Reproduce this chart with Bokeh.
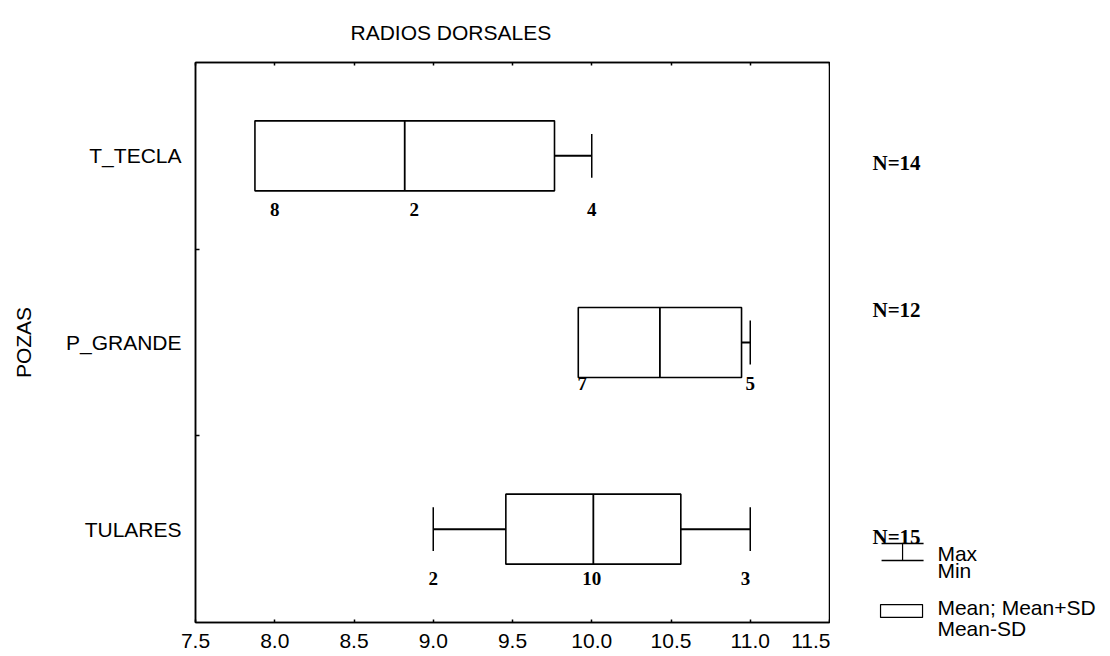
from bokeh.plotting import figure
from bokeh.layouts import row
from bokeh.models import Range1d, FixedTicker, LinearAxis
from bokeh.embed import file_html
from bokeh.resources import INLINE
from bokeh.core.properties import value

# ---------------- data ----------------
title_text = "RADIOS DORSALES"
y_title = "POZAS"
groups = ["T_TECLA", "P_GRANDE", "TULARES"]
means = [8.82, 10.43, 10.01]
sds = [0.945, 0.515, 0.552]
mins = [8.0, 10.0, 9.0]
maxs = [10.0, 11.0, 11.0]
n_obs = [14, 12, 15]
count_vals = [[8, 2, 4], [7, 5], [2, 10, 3]]
count_pos = [[8.0, 8.88, 10.0], [9.94, 11.0], [9.0, 10.0, 10.97]]
x_ticks = [7.5, 8.0, 8.5, 9.0, 9.5, 10.0, 10.5, 11.0, 11.5]
x_tick_labels = ["7.5", "8.0", "8.5", "9.0", "9.5", "10.0", "10.5", "11.0", "11.5"]
legend_whisker = ["Max", "Min"]
legend_box = ["Mean; Mean+SD", "Mean-SD"]

# ---------------- layout / style ----------------
SANS = "Liberation Sans"
SERIF = "Liberation Serif"
FRAME_W, FRAME_H = 634, 560
LEFT, TOP, BOTTOM, RIGHT = 195, 62, 34, 1
SIDE_W = 1110 - (LEFT + FRAME_W + RIGHT)
BOX_H = 0.375
CAP_H = 0.235
count_dy = [0.29, 0.22, 0.265]
n_dy = [-0.036, 0.172, -0.044]
ng = len(groups)
ycent = [ng - i - 0.5 for i in range(ng)]
x0, x1 = x_ticks[0], x_ticks[-1]
ppx = FRAME_W / (x1 - x0)
ppy = FRAME_H / ng

p = figure(frame_width=FRAME_W, frame_height=FRAME_H,
           x_range=Range1d(x0, x1), y_range=Range1d(0, ng),
           output_backend="svg", toolbar_location=None,
           min_border_left=LEFT, min_border_right=RIGHT, min_border_top=TOP,
           min_border_bottom=BOTTOM)
p.frame_align = False
p.background_fill_color = "white"
p.border_fill_color = "white"
p.grid.visible = False
p.outline_line_color = "black"
p.outline_line_width = 1.5

# title
p.title.text = title_text
p.title.align = "left"
p.title.offset = 155
p.title.standoff = 37
p.title.text_font = SANS
p.title.text_font_size = "21px"
p.title.text_font_style = "normal"
p.title.text_color = "black"

# bottom axis
p.xaxis.ticker = FixedTicker(ticks=x_ticks)
p.xaxis.major_label_overrides = {t: s for t, s in zip(x_ticks, x_tick_labels)}
p.xaxis.major_tick_in = 3
p.xaxis.major_tick_out = 0
p.xaxis.minor_tick_line_color = None
p.xaxis.major_label_standoff = 11
p.xaxis.major_label_text_font = SANS
p.xaxis.major_label_text_font_size = "21px"
p.xaxis.major_label_text_color = "black"
p.xaxis.axis_line_width = 1.5
p.xaxis.major_tick_line_width = 1.5

# top axis (ticks only)
top = LinearAxis(ticker=FixedTicker(ticks=x_ticks), major_tick_in=3, major_tick_out=0,
                 minor_tick_line_color=None, major_label_text_font_size="0px",
                 major_label_standoff=0, axis_line_width=1.5, major_tick_line_width=1.5)
p.add_layout(top, "above")

# left axis
p.yaxis.ticker = FixedTicker(ticks=ycent, minor_ticks=[float(k) for k in range(1, ng)])
p.yaxis.major_label_overrides = {y: g for y, g in zip(ycent, groups)}
p.yaxis.major_tick_line_color = None
p.yaxis.major_tick_in = 0
p.yaxis.major_tick_out = 0
p.yaxis.minor_tick_in = 4
p.yaxis.minor_tick_out = 0
p.yaxis.minor_tick_line_width = 1.5
p.yaxis.major_label_standoff = 14
p.yaxis.major_label_text_font = SANS
p.yaxis.major_label_text_font_size = "21px"
p.yaxis.major_label_text_color = "black"
p.yaxis.axis_line_width = 1.5
p.yaxis.axis_label = y_title
p.yaxis.axis_label_text_font = SANS
p.yaxis.axis_label_text_font_size = "21px"
p.yaxis.axis_label_text_font_style = "normal"
p.yaxis.axis_label_text_color = "black"
p.yaxis.axis_label_standoff = 28

# whiskers (drawn first, box covers interior parts)
lo = [m - s for m, s in zip(means, sds)]
hi = [m + s for m, s in zip(means, sds)]
p.segment(x0=lo, y0=ycent, x1=mins, y1=ycent, line_color="black", line_width=2)
p.segment(x0=hi, y0=ycent, x1=maxs, y1=ycent, line_color="black", line_width=2)
p.segment(x0=mins, y0=[y - CAP_H / 2 for y in ycent], x1=mins, y1=[y + CAP_H / 2 for y in ycent],
          line_color="black", line_width=1.5)
p.segment(x0=maxs, y0=[y - CAP_H / 2 for y in ycent], x1=maxs, y1=[y + CAP_H / 2 for y in ycent],
          line_color="black", line_width=1.5)

# boxes
p.quad(left=lo, right=hi, bottom=[y - BOX_H / 2 for y in ycent], top=[y + BOX_H / 2 for y in ycent],
       fill_color="white", line_color="black", line_width=1.6)
p.segment(x0=means, y0=[y - BOX_H / 2 for y in ycent], x1=means, y1=[y + BOX_H / 2 for y in ycent],
          line_color="black", line_width=1.8)

# count labels
cx, cy, ct = [], [], []
for i in range(ng):
    for v, xp in zip(count_vals[i], count_pos[i]):
        cx.append(xp)
        cy.append(ycent[i] - count_dy[i])
        ct.append(str(v))
p.text(x=cx, y=cy, text=ct, text_align="center", text_baseline="middle",
       text_font=value(SERIF), text_font_style="bold", text_font_size="19px", text_color="black")

# ---------------- right side panel (same data scale, continues to the right) ----------------
s = figure(frame_width=SIDE_W, frame_height=TOP + FRAME_H + BOTTOM, title=None,
           x_range=Range1d(x1 + RIGHT / ppx, x1 + (RIGHT + SIDE_W) / ppx),
           y_range=Range1d(-BOTTOM / ppy, ng + TOP / ppy),
           x_axis_location=None, y_axis_location=None,
           output_backend="svg", toolbar_location=None, min_border=0)
s.frame_align = False
s.background_fill_color = "white"
s.border_fill_color = "white"
s.outline_line_color = None
s.grid.visible = False

NX = x1 + 0.423
s.text(x=[NX] * ng, y=[ycent[i] + n_dy[i] for i in range(ng)], text=["N=%d" % n for n in n_obs],
       text_align="center", text_baseline="middle", text_font=value(SERIF),
       text_font_style="bold", text_font_size="21px", text_color="black")

# legend: whisker (Max/Min) icon
IX = 11.961
HW = 21 / ppx
s.segment(x0=[IX], y0=[0.332], x1=[IX], y1=[0.423], line_color="black", line_width=1.2)
s.segment(x0=[IX - HW, IX - HW], y0=[0.332, 0.423], x1=[IX + HW, IX + HW], y1=[0.332, 0.423],
          line_color="black", line_width=1.5)
# legend: box icon
s.quad(left=[11.822], right=[12.087], bottom=[0.027], top=[0.096], fill_color="white",
       line_color="black", line_width=1.2)
LX = 12.181
s.text(x=[LX] * 4, y=[0.370, 0.279, 0.080, -0.032], text=legend_whisker + legend_box,
       text_align="left", text_baseline="middle", text_font=value(SANS),
       text_font_size="21px", text_color="black")

open("out.html", "w").write(file_html(row(p, s), INLINE))
